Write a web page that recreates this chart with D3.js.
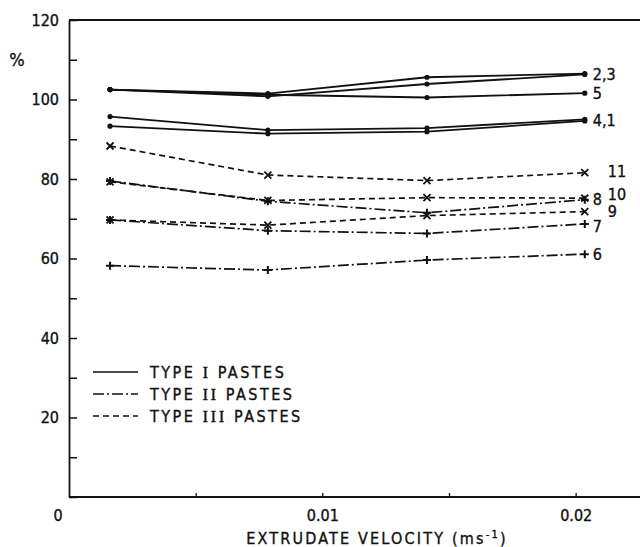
<!DOCTYPE html>
<html>
<head>
<meta charset="utf-8">
<script src="https://cdn.jsdelivr.net/npm/d3@7"></script>
<style>
  body { margin: 0; background: #fff; }
  text { font-family: "DejaVu Sans Condensed", "DejaVu Sans", sans-serif; fill: #111; stroke: #111; stroke-width: 0.35; }
</style>
</head>
<body>
<script>
// extrudate velocity (m/s) at the four measuring points
var velocity = [0.00162, 0.00785, 0.01413, 0.02036];

// paste series, % values
var seriesNames = ["1", "2", "3", "4", "5", "6", "7", "8", "9", "10", "11"];
var seriesType  = [1, 1, 1, 1, 1, 2, 2, 2, 3, 3, 3];
var s1  = [93.3, 91.4, 91.9, 94.6];
var s2  = [102.5, 101.5, 105.6, 106.5];
var s3  = [102.5, 100.8, 103.9, 106.3];
var s4  = [95.7, 92.3, 92.8, 95.0];
var s5  = [102.5, 101.2, 100.5, 101.6];
var s6  = [58.2, 57.1, 59.6, 61.1];
var s7  = [69.7, 67.0, 66.3, 68.7];
var s8  = [79.5, 74.4, 71.5, 74.8];
var s9  = [69.7, 68.4, 70.8, 71.8];
var s10 = [79.3, 74.6, 75.3, 75.2];
var s11 = [88.3, 81.0, 79.6, 81.6];
var seriesValues = [s1, s2, s3, s4, s5, s6, s7, s8, s9, s10, s11];

// curve labels at the right end and the value they sit at
var labelText  = ["2,3", "5", "4,1", "11", "10", "8", "9", "7", "6"];
var labelValue = [106.4, 101.6, 94.8, 82.0, 76.2, 74.9, 71.8, 68.2, 61.0];
var labelFar   = [false, false, false, true, true, false, true, false, false];

var legendText = [["TYPE ", "I", " PASTES"], ["TYPE ", "II", " PASTES"], ["TYPE ", "III", " PASTES"]];

var yTicks = d3.range(0, 121, 10);
var yLabels = [20, 40, 60, 80, 100, 120];
var xTicks = [0.005, 0.01, 0.015, 0.02];
var xLabels = [0.01, 0.02];

var svgWidth = 640, svgHeight = 547;
var dashFor = {1: null, 2: "11,3,2,3", 3: "6,4"};

var svg = d3.select("body").append("svg")
  .attr("width", svgWidth)
  .attr("height", svgHeight);

var x = d3.scaleLinear().domain([0, 0.0225]).range([69, 639]);
var y = d3.scaleLinear().domain([0, 120]).range([497, 20]);

// frame: top line, left and bottom axes
svg.append("line")
  .attr("x1", x(0)).attr("x2", svgWidth)
  .attr("y1", y(120)).attr("y2", y(120))
  .attr("stroke", "#111").attr("stroke-width", 1.8);

var yAxis = d3.axisLeft(y)
  .tickValues(yTicks)
  .tickSizeInner(-8)
  .tickSizeOuter(0)
  .tickPadding(10)
  .tickFormat(d => yLabels.indexOf(d) >= 0 ? d : "");

var gy = svg.append("g")
  .attr("transform", `translate(${x(0)},0)`)
  .call(yAxis);
gy.select(".domain").attr("stroke", "#111").attr("stroke-width", 1.8);
gy.selectAll(".tick line").attr("stroke", "#111").attr("stroke-width", 1.5);
gy.selectAll(".tick text").attr("font-size", 16).attr("font-family", null);

var xAxis = d3.axisBottom(x)
  .tickValues(xTicks)
  .tickSizeInner(-4)
  .tickSizeOuter(0)
  .tickPadding(13)
  .tickFormat(d => xLabels.indexOf(d) >= 0 ? d : "");

var gx = svg.append("g")
  .attr("transform", `translate(0,${y(0)})`)
  .call(xAxis);
gx.select(".domain").attr("d", `M${x(0)},0H${svgWidth}`)
  .attr("stroke", "#111").attr("stroke-width", 1.8);
gx.selectAll(".tick line").attr("stroke", "#111").attr("stroke-width", 1.3);
gx.selectAll(".tick text").attr("font-size", 16).attr("font-family", null);

svg.append("text")
  .attr("x", x(0) - 11).attr("y", y(0) + 24)
  .attr("text-anchor", "middle")
  .attr("font-size", 16)
  .text("0");

svg.append("text")
  .attr("x", 17).attr("y", 66)
  .attr("text-anchor", "middle")
  .attr("font-size", 18)
  .text("%");

var title = svg.append("text")
  .attr("x", 377).attr("y", 544)
  .attr("text-anchor", "middle")
  .attr("font-size", 16)
  .attr("letter-spacing", 2.2);
title.append("tspan").text("EXTRUDATE VELOCITY (ms");
title.append("tspan").attr("font-size", 11).attr("dy", -6).text("-1");
title.append("tspan").attr("dy", 6).text(")");

// lines
var line = d3.line()
  .x((d, i) => x(velocity[i]))
  .y(d => y(d));

seriesValues.forEach(function(vals, k) {
  var t = seriesType[k];
  svg.append("path")
    .datum(vals)
    .attr("fill", "none")
    .attr("stroke", "#111")
    .attr("stroke-width", t === 1 ? 1.8 : 1.7)
    .attr("stroke-dasharray", dashFor[t])
    .attr("d", line);
});

// markers
seriesValues.forEach(function(vals, k) {
  var t = seriesType[k];
  var g = svg.append("g");
  vals.forEach(function(v, i) {
    var cx = x(velocity[i]), cy = y(v);
    if (t === 1) {
      g.append("circle").attr("cx", cx).attr("cy", cy).attr("r", 2.6).attr("fill", "#111");
    } else if (t === 2) {
      g.append("path")
        .attr("d", `M${cx - 4},${cy}H${cx + 4}M${cx},${cy - 4}V${cy + 4}`)
        .attr("stroke", "#111").attr("stroke-width", 2);
    } else {
      g.append("path")
        .attr("d", `M${cx - 3.5},${cy - 3.5}L${cx + 3.5},${cy + 3.5}M${cx - 3.5},${cy + 3.5}L${cx + 3.5},${cy - 3.5}`)
        .attr("stroke", "#111").attr("stroke-width", 1.8);
    }
  });
});

// curve labels
var xEnd = x(velocity[velocity.length - 1]);
labelText.forEach(function(txt, i) {
  svg.append("text")
    .attr("x", xEnd + (labelFar[i] ? 23 : 8))
    .attr("y", y(labelValue[i]))
    .attr("dy", "0.36em")
    .attr("font-size", 16)
    .text(txt);
});

// legend
legendText.forEach(function(parts, i) {
  var ly = 372 + i * 22;
  svg.append("line")
    .attr("x1", 93).attr("x2", 138)
    .attr("y1", ly).attr("y2", ly)
    .attr("stroke", "#111").attr("stroke-width", 1.7)
    .attr("stroke-dasharray", dashFor[i + 1]);
  var t = svg.append("text")
    .attr("x", 150).attr("y", ly)
    .attr("dy", "0.36em")
    .attr("font-size", 16)
    .attr("letter-spacing", 2.5);
  t.append("tspan").text(parts[0]);
  t.append("tspan").attr("font-family", "Liberation Serif, serif").attr("font-size", 17).text(parts[1]);
  t.append("tspan").text(parts[2]);
});
</script>
</body>
</html>
